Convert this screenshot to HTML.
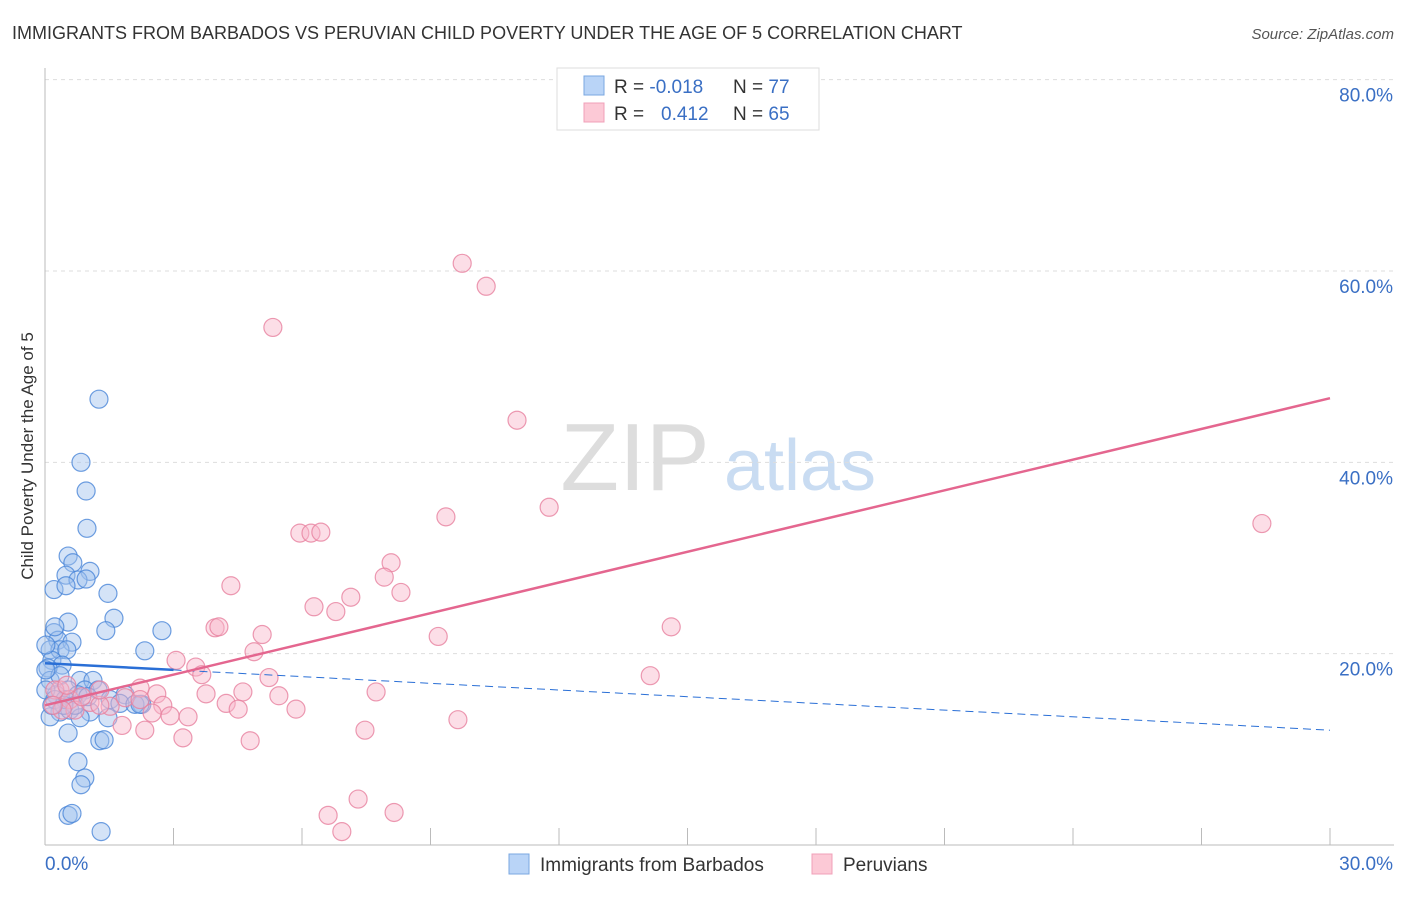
<!DOCTYPE html>
<html><head><meta charset="utf-8"><style>
body{margin:0;background:#fff;font-family:"Liberation Sans",sans-serif}
svg text{font-family:"Liberation Sans",sans-serif}
</style></head><body>
<svg id="chart" width="1406" height="892" viewBox="0 0 1406 892" xmlns="http://www.w3.org/2000/svg">
<text x="12" y="39" font-size="18" fill="#333">IMMIGRANTS FROM BARBADOS VS PERUVIAN CHILD POVERTY UNDER THE AGE OF 5 CORRELATION CHART</text>
<text x="1394" y="39" font-size="15" fill="#555" font-style="italic" text-anchor="end">Source: ZipAtlas.com</text>
<text transform="translate(33,456) rotate(-90)" font-size="17" fill="#333" text-anchor="middle">Child Poverty Under the Age of 5</text>
<g>
<text x="635" y="490" font-size="96" fill="#ddd" font-family="Liberation Serif" text-anchor="middle">ZIP</text>
<text x="800" y="490" font-size="72" fill="#c9dcf2" text-anchor="middle">atlas</text>
</g>
<g id="grid"></g><g id="axes"></g><g id="pts"></g><g id="trend"></g>
<g>
<rect x="557" y="68" width="262" height="62" fill="#fff" stroke="#ddd"/>
<rect x="584" y="76" width="20" height="19" fill="#b9d4f7" stroke="#7aa7e0"/>
<rect x="584" y="103" width="20" height="19" fill="#fcc9d6" stroke="#f0a0b8"/>
<text x="614" y="93" font-size="19" fill="#333">R = <tspan fill="#3a6fc4">-0.018</tspan><tspan x="733">N = </tspan><tspan fill="#3a6fc4">77</tspan></text>
<text x="614" y="120" font-size="19" fill="#333">R = <tspan x="661" fill="#3a6fc4">0.412</tspan><tspan x="733">N = </tspan><tspan fill="#3a6fc4">65</tspan></text>
</g>
<g>
<rect x="509" y="854" width="20" height="20" fill="#b9d4f7" stroke="#7aa7e0"/>
<text x="540" y="871" font-size="19" fill="#333">Immigrants from Barbados</text>
<rect x="812" y="854" width="20" height="20" fill="#fcc9d6" stroke="#f0a0b8"/>
<text x="843" y="871" font-size="19" fill="#333">Peruvians</text>
</g>
</svg>
<script>
const yTicks=[20,40,60,80];
const yTickLabels=["20.0%","40.0%","60.0%","80.0%"];
const xTickLabels=["0.0%","30.0%"];
const blueX=[1.26,0.84,0.96,0.98,0.54,0.65,0.49,1.05,0.77,0.96,0.21,0.49,1.47,0.54,1.61,1.42,2.73,2.33,0.21,0.30,0.63,0.12,0.35,0.51,0.16,0.40,0.07,0.12,0.35,0.82,1.12,0.93,0.54,0.26,0.77,1.24,1.87,1.52,1.75,2.26,2.10,0.35,0.58,1.05,0.12,1.47,0.82,0.54,1.28,1.38,0.77,0.93,0.84,0.54,0.63,1.31,0.02,0.02,0.23,0.47,0.70,2.22,0.23,0.02,0.44,1.0,0.16];
const blueY=[46.6,40.0,37.0,33.1,30.2,29.5,28.2,28.6,27.7,27.8,26.7,27.1,26.3,23.3,23.7,22.4,22.4,20.3,22.2,21.4,21.2,20.4,20.4,20.4,19.3,18.8,18.5,17.2,17.7,17.2,17.2,16.2,16.2,15.7,15.7,16.2,15.7,15.2,14.8,14.7,14.7,13.9,14.1,13.9,13.4,13.3,13.3,11.7,10.9,11.0,8.7,7.0,6.3,3.1,3.3,1.4,18.3,16.2,15.2,15.2,14.6,14.7,22.8,20.9,14.6,15.5,14.6];
const pinkX=[9.74,10.30,5.32,11.02,9.36,11.77,28.41,5.95,6.21,6.44,8.08,7.92,4.34,7.14,8.31,6.28,6.79,3.97,4.06,5.07,9.18,14.62,4.88,3.06,3.52,3.66,5.23,14.13,4.62,3.76,5.46,2.61,2.22,7.73,1.87,4.23,4.51,5.86,2.75,2.50,2.92,3.34,9.64,1.52,1.80,2.33,7.47,3.22,4.79,7.31,6.61,8.15,6.93,0.35,0.58,0.70,0.40,1.05,1.28,0.86,0.23,0.51,0.19,2.22,1.28];
const pinkY=[60.8,58.4,54.1,44.4,34.3,35.3,33.6,32.6,32.6,32.7,29.5,28.0,27.1,25.9,26.4,24.9,24.4,22.7,22.8,22.0,21.8,22.8,20.2,19.3,18.6,17.8,17.5,17.7,16.0,15.8,15.6,15.8,16.4,16.0,15.4,14.8,14.2,14.2,14.6,13.8,13.5,13.4,13.1,14.5,12.5,12.0,12.0,11.2,10.9,4.8,3.1,3.4,1.4,16.2,15.2,14.1,14.1,14.9,14.6,15.5,16.2,16.7,14.6,15.2,16.2];
const blueTrend=[19.0,12.0]; // y at x=0 and x=30
const blueSolidEnd=3.0;
const pinkTrend=[14.6,46.7];

const X0=45,X1=1330,Y0=845,YPER=9.567;
const sx=v=>X0+(X1-X0)*v/30;
const sy=v=>Y0-v*YPER;
const NS="http://www.w3.org/2000/svg";
function mk(p,t,a){const e=document.createElementNS(NS,t);for(const k in a)e.setAttribute(k,a[k]);p.appendChild(e);return e;}
const grid=document.getElementById('grid'),axes=document.getElementById('axes'),pts=document.getElementById('pts'),tr=document.getElementById('trend');
yTicks.forEach((t,i)=>{
 const l=mk(grid,'line',{x1:X0,x2:1394,y1:sy(t),y2:sy(t),stroke:'#ddd','stroke-dasharray':'4,4'});
 
 
 const tx=mk(grid,'text',{x:1393,y:sy(t)+22,'font-size':19,fill:'#3a6fc4','text-anchor':'end'});
 tx.textContent=yTickLabels[i];
 
 
});
const ya=mk(axes,'line',{x1:X0,x2:X0,y1:68,y2:Y0,stroke:'#bbb'});


const xa=mk(axes,'line',{x1:X0,x2:1394,y1:Y0,y2:Y0,stroke:'#bbb'});


for(let v=3;v<=30;v+=3){const tk=mk(axes,'line',{x1:sx(v),x2:sx(v),y1:828,y2:Y0,stroke:'#bbb'});
 
 }
[[0,'start',X0],[30,'end',1393]].forEach((d,i)=>{const t=mk(axes,'text',{x:d[2],y:870,'font-size':19,fill:'#3a6fc4','text-anchor':d[1]});t.textContent=xTickLabels[i];
 
 });
function dots(xs,ys,fill,stroke,name){xs.forEach((x,i)=>{const c=mk(pts,'circle',{cx:sx(x),cy:sy(ys[i]),r:9,fill:fill,'fill-opacity':0.45,stroke:stroke,'stroke-width':1.2,'stroke-opacity':0.8});
 
 });}
dots(blueX,blueY,'#9fc2ee','#4a86d8','barbados-point');
dots(pinkX,pinkY,'#f8b6c9','#e7819f','peruvian-point');
const bAt=x=>blueTrend[0]+(blueTrend[1]-blueTrend[0])*x/30;
const b1=mk(tr,'line',{x1:sx(0),y1:sy(bAt(0)),x2:sx(blueSolidEnd),y2:sy(bAt(blueSolidEnd)),stroke:'#2a6fd6','stroke-width':2.5});


const b2=mk(tr,'line',{x1:sx(blueSolidEnd),y1:sy(bAt(blueSolidEnd)),x2:sx(30),y2:sy(bAt(30)),stroke:'#2a6fd6','stroke-width':1,'stroke-dasharray':'8,5'});


const p1=mk(tr,'line',{x1:sx(0),y1:sy(pinkTrend[0]),x2:sx(30),y2:sy(pinkTrend[1]),stroke:'#e4668f','stroke-width':2.5});


</script>
</body></html>
